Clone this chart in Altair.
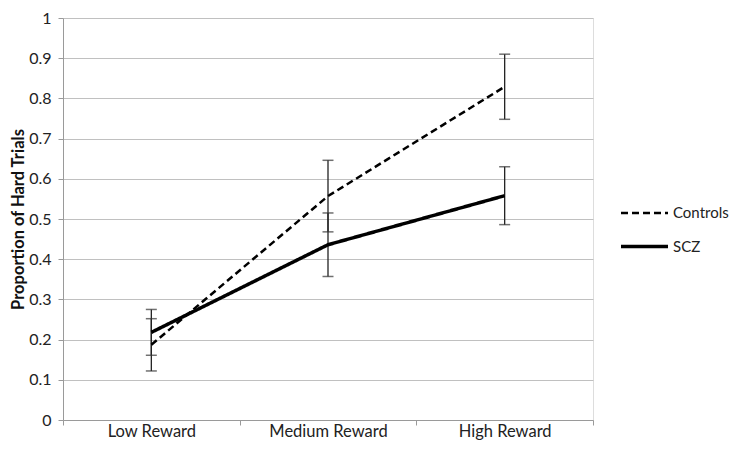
import altair as alt
import pandas as pd

categories = ["Low Reward", "Medium Reward", "High Reward"]
series_names = ["Controls", "SCZ"]
controls = [0.187, 0.557, 0.829]
controls_err = [0.065, 0.089, 0.081]
scz = [0.218, 0.436, 0.558]
scz_err = [0.057, 0.079, 0.072]
y_ticks = [0, 0.1, 0.2, 0.3, 0.4, 0.5, 0.6, 0.7, 0.8, 0.9, 1]

rows = []
for name, vals, errs in [("Controls", controls, controls_err), ("SCZ", scz, scz_err)]:
    for c, v, e in zip(categories, vals, errs):
        rows.append({"series": name, "category": c, "value": v, "lo": v - e, "hi": v + e})
df = pd.DataFrame(rows)

FONT = "Lato"

x_enc = alt.X(
    "category:N",
    sort=categories,
    scale=alt.Scale(type="band", paddingInner=0, paddingOuter=0),
    axis=alt.Axis(
        title=None, labelAngle=0, tickBand="extent", bandPosition=0.5, ticks=True, tickSize=5,
        grid=False, domainColor="#9a9a9a", tickColor="#9a9a9a",
        labelFont=FONT, labelFontSize=16.5, labelColor="#222", labelPadding=6,
        labelAlign="center",
    ),
)
y_scale = alt.Scale(domain=[0, 1], nice=False)
y_axis = alt.Axis(
    title="Proportion of Hard Trials", values=y_ticks, format="~g",
    grid=True, gridColor="#c0c0c0", gridWidth=1,
    domainColor="#9a9a9a", tickColor="#9a9a9a", tickSize=5,
    labelFont=FONT, labelFontSize=16, labelColor="#222", labelPadding=7,
    titleFont=FONT, titleFontSize=16.5, titleFontWeight="bold", titleColor="#111",
    titlePadding=2,
)

base = alt.Chart(df)

lines = base.mark_line(color="black").encode(
    x=x_enc,
    y=alt.Y("value:Q", scale=y_scale, axis=y_axis),
    strokeDash=alt.StrokeDash(
        "series:N",
        scale=alt.Scale(domain=series_names, range=[[7, 4], [1, 0]]),
        legend=alt.Legend(
            title=None, orient="none", legendX=556, legendY=170,
            symbolType="stroke", symbolSize=2209, symbolStrokeWidth=3,
            symbolStrokeColor="black", labelFont=FONT, labelFontSize=15,
            labelColor="#222", labelOffset=3, rowPadding=-12, labelLimit=100,
        ),
    ),
    strokeWidth=alt.StrokeWidth(
        "series:N",
        scale=alt.Scale(domain=series_names, range=[2.5, 3.5]),
        legend=None,
    ),
)

rules = base.mark_rule(color="#222", strokeWidth=1.3).encode(
    x=alt.X("category:N", sort=categories),
    y=alt.Y("lo:Q", scale=y_scale),
    y2="hi:Q",
)
caps_lo = base.mark_tick(color="#333", size=11, thickness=1.5, orient="horizontal").encode(
    x=alt.X("category:N", sort=categories),
    y=alt.Y("lo:Q", scale=y_scale),
)
caps_hi = base.mark_tick(color="#333", size=11, thickness=1.5, orient="horizontal").encode(
    x=alt.X("category:N", sort=categories),
    y=alt.Y("hi:Q", scale=y_scale),
)

chart = alt.layer(rules, caps_lo, caps_hi, lines).properties(
    width=530, height=402,
    autosize=alt.AutoSizeParams(type="none"),
    padding={"left": 55, "top": 10, "right": 141, "bottom": 29},
).configure_view(stroke=None).configure(background="white")

chart.save("out.html", embed_options={"renderer": "svg", "actions": False})
